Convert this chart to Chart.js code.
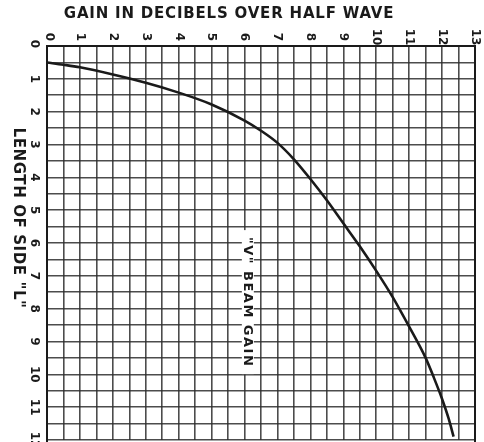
<!DOCTYPE html>
<html lang="en">
<head>
<meta charset="UTF-8">
<title>"V" Beam Gain</title>
<script src="https://cdn.jsdelivr.net/npm/chart.js"></script>
<style>
  html, body { margin: 0; padding: 0; background: #fff; }
  #wrap { width: 484px; height: 442px; position: relative; }
</style>
</head>
<body>
<div id="wrap"><canvas id="beamChart"></canvas></div>
<script>
// values
const gainDb = [0, 0.5, 1, 2, 3, 4, 5, 6, 6.5, 7, 7.5, 8, 8.5, 9, 9.5, 10, 10.5, 11, 11.5, 11.75, 12, 12.2, 12.35];
const sideLength = [0.5, 0.57, 0.65, 0.87, 1.12, 1.42, 1.78, 2.27, 2.58, 2.95, 3.45, 4.05, 4.7, 5.4, 6.1, 6.85, 7.65, 8.55, 9.5, 10.1, 10.75, 11.35, 11.9];

const gainTicks = ['0', '1', '2', '3', '4', '5', '6', '7', '8', '9', '10', '11', '12', '13'];
const lengthTicks = ['0', '1', '2', '3', '4', '5', '6', '7', '8', '9', '10', '11', '12'];

const xTitle = 'GAIN IN DECIBELS OVER HALF WAVE';
const yTitle = 'LENGTH OF SIDE "L"';
const curveLabel = '"V" BEAM GAIN';

const ink = '#1a1a1a';
const gridInk = 'rgba(45,45,45,0.85)';
const letterFont = 'bold 12px "DejaVu Sans", sans-serif';

function rotatedText(ctx, text, x, y, font, spacing) {
    ctx.save();
    ctx.translate(x, y);
    ctx.rotate(Math.PI / 2);
    ctx.font = font;
    ctx.letterSpacing = spacing || '0px';
    ctx.fillStyle = ink;
    ctx.textAlign = 'center';
    ctx.textBaseline = 'middle';
    ctx.fillText(text, 0, 0);
    ctx.restore();
}

// hand lettering: titles, rotated tick numbers, label on the curve
const lettering = {
    id: 'lettering',
    beforeDatasetsDraw(chart) {
        const ctx = chart.ctx;
        const xs = chart.scales.x, ys = chart.scales.y;
        const cx = xs.getPixelForValue(6.1);
        const cy = ys.getPixelForValue(7.8);
        ctx.save();
        ctx.fillStyle = '#fff';
        ctx.fillRect(cx - 6, cy - 72, 12, 144);
        ctx.restore();
        rotatedText(ctx, curveLabel, cx, cy, 'bold 13px "DejaVu Sans", sans-serif', '1.5px');
    },
    afterDraw(chart) {
        const ctx = chart.ctx;
        const xs = chart.scales.x, ys = chart.scales.y;
        const area = chart.chartArea;

        ctx.save();
        ctx.font = 'bold 15px "DejaVu Sans", sans-serif';
        ctx.letterSpacing = '0.8px';
        ctx.fillStyle = ink;
        ctx.textAlign = 'center';
        ctx.textBaseline = 'middle';
        ctx.fillText(xTitle, 229, 14);
        ctx.restore();

        rotatedText(ctx, yTitle, 18, 218, 'bold 15px "DejaVu Sans", sans-serif', '0.6px');

        gainTicks.forEach((t, i) => {
            const px = xs.getPixelForValue(i);
            rotatedText(ctx, t, i === 0 ? px + 2 : px, area.top - 9, letterFont);
        });
        lengthTicks.forEach((t, i) => {
            const py = ys.getPixelForValue(i);
            rotatedText(ctx, t, area.left - 13, i === 0 ? py - 2 : py, letterFont);
        });

        // heavier frame on the graph paper
        ctx.save();
        ctx.strokeStyle = ink;
        ctx.lineWidth = 2;
        ctx.beginPath();
        ctx.moveTo(area.left, area.bottom + 2);
        ctx.lineTo(area.left, area.top);
        ctx.lineTo(area.right, area.top);
        ctx.lineTo(area.right, area.bottom + 2);
        ctx.stroke();
        ctx.restore();
    }
};

new Chart(document.getElementById('beamChart'), {
    type: 'line',
    data: {
        datasets: [{
            label: curveLabel,
            data: gainDb.map((g, i) => ({ x: g, y: sideLength[i] })),
            borderColor: ink,
            borderWidth: 2.6,
            pointRadius: 0,
            cubicInterpolationMode: 'monotone',
            fill: false
        }]
    },
    options: {
        responsive: true,
        maintainAspectRatio: false,
        animation: false,
        layout: { padding: { top: 46, left: 47, right: 9, bottom: 2 } },
        plugins: { legend: { display: false }, tooltip: { enabled: false } },
        scales: {
            x: {
                type: 'linear',
                position: 'top',
                min: 0,
                max: 13,
                ticks: { stepSize: 0.5, display: false },
                grid: { color: gridInk, lineWidth: 1.6, drawTicks: false },
                border: { display: false }
            },
            y: {
                type: 'linear',
                reverse: true,
                min: 0,
                max: 12,
                ticks: { stepSize: 0.5, display: false },
                grid: { color: gridInk, lineWidth: 1.6, drawTicks: false },
                border: { display: false }
            }
        }
    },
    plugins: [lettering]
});
</script>
</body>
</html>
